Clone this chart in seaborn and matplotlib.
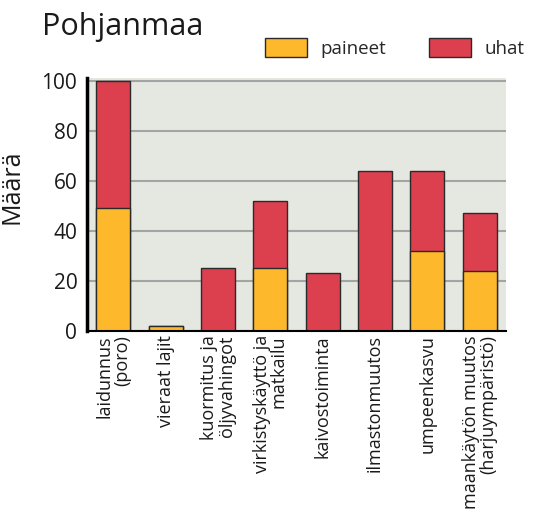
import matplotlib
matplotlib.use("Agg")
import matplotlib.pyplot as plt
import seaborn as sns
import pandas as pd
from matplotlib.patches import Patch

categories = ["laidunnus\n(poro)", "vieraat lajit", "kuormitus ja\nöljyvahingot",
              "virkistyskäyttö ja\nmatkailu", "kaivostoiminta", "ilmastonmuutos",
              "umpeenkasvu", "maankäytön muutos\n(harjuympäristö)"]
paineet = [49, 2, 0, 25, 0, 0, 32, 24]
uhat = [51, 0, 25, 27, 23, 64, 32, 23]
yticks = [0, 20, 40, 60, 80, 100]

sns.set_theme(style="white")
plt.rcParams['font.family'] = ['Open Sans', 'DejaVu Sans']

df = pd.DataFrame({"cat": categories, "paineet": paineet, "uhat": uhat})
df["total"] = df["paineet"] + df["uhat"]

yellow = "#FDB92B"
red = "#DC404F"
edge = "#2a2a2a"

fig = plt.figure(figsize=(5.35, 5.16), dpi=100)
ax = fig.add_axes([87/535, 1-331/516, (506-87)/535, (331-78)/516])
ax.set_facecolor("#E4E8E0")

sns.barplot(data=df, x="cat", y="total", color=red, saturation=1, width=0.65,
            edgecolor=edge, linewidth=1.0, ax=ax)
sns.barplot(data=df, x="cat", y="paineet", color=yellow, saturation=1, width=0.65,
            edgecolor=edge, linewidth=1.0, ax=ax)

ax.set_ylim(0, 101)
ax.set_xlim(-0.5, 7.5)
ax.set_yticks(yticks)
ax.yaxis.grid(True, color="#A4A4A4", linewidth=1.5)
ax.set_axisbelow(True)
for s in ["top", "right"]:
    ax.spines[s].set_visible(False)
ax.spines["left"].set_linewidth(2.5)
ax.spines["left"].set_color("black")
ax.spines["bottom"].set_linewidth(1.5)
ax.spines["bottom"].set_color("black")
ax.tick_params(axis="y", length=0, labelsize=15, pad=7, colors="#1a1a1a")
ax.tick_params(axis="x", length=0, pad=3)
ax.set_xticks(range(len(categories)))
ax.set_xticklabels(categories, rotation=90, fontsize=13.0, ha="center", va="top",
                   multialignment="right", color="#1a1a1a", linespacing=0.95)
ax.set_xlabel("")
ax.set_ylabel("Määrä", fontsize=18, color="#1a1a1a")
ax.yaxis.set_label_coords(-0.15, 0.57)

fig.text(42/535, 1-27/516, "Pohjanmaa", fontsize=22, va="center", ha="left", color="#1a1a1a")

handles = [Patch(facecolor=yellow, edgecolor=edge, label="paineet"),
           Patch(facecolor=red, edgecolor=edge, label="uhat")]
fig.legend(handles=handles, loc="center left", bbox_to_anchor=(265/535, 1-48/516),
           ncol=2, frameon=False, fontsize=13.5, handlelength=2.25, handleheight=1.2,
           columnspacing=2.3, handletextpad=0.7, borderpad=0, borderaxespad=0)

fig.savefig("out.png", dpi=100)
